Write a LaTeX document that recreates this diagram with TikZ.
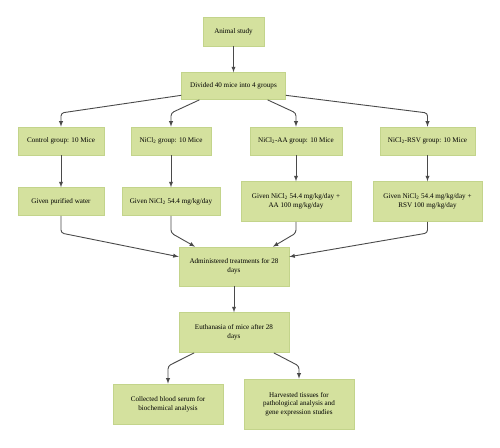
\documentclass[tikz,border=0pt]{standalone}
\usepackage{fontspec}
\setmainfont{Liberation Serif}
\usetikzlibrary{shapes.geometric, arrows, calc, positioning}
\definecolor{boxfill}{HTML}{D4E19E}
\definecolor{boxline}{HTML}{C3D48B}
\definecolor{linegray}{HTML}{4A4A4A}
\tikzstyle{box} = [rectangle, fill=boxfill, draw=boxline, line width=0.6pt, minimum height=28pt, align=center, inner sep=2pt, font=\fontsize{7.1}{8.7}\selectfont]
\tikzstyle{arrow} = [draw=linegray, line width=0.9pt, ->, >=latex, rounded corners=3pt]
\begin{document}
\begin{tikzpicture}[x=1pt, y=-1pt, node distance = 26pt, auto]
		\useasboundingbox (0,0) rectangle (500,447);
		\node (study) [box, minimum width=61pt, minimum height=29pt] at (233.5,31.5) {Animal study};
		\node (divide) [box, minimum width=104pt, minimum height=27pt, below = of study] {Divided 40 mice into 4 groups};
		\node (ctl) [box, minimum width=86pt] at (61,141) {Control group: 10 Mice};
		\node (ni) [box, minimum width=80pt] at (171,141) {NiCl\textsubscript{2} group: 10 Mice};
		\node (aa) [box, minimum width=92pt] at (296,141) {NiCl\textsubscript{2}-AA group: 10 Mice};
		\node (rsv) [box, minimum width=95pt] at (427.5,141) {NiCl\textsubscript{2}-RSV group: 10 Mice};
		\node (water) [box, minimum width=86pt, below = 32pt of ctl] {Given purified water};
		\node (niGiven) [box, minimum width=98pt, below = 32pt of ni] {Given NiCl\textsubscript{2} 54.4 mg/kg/day};
		\node (aaGiven) [box, minimum width=110pt, minimum height=40pt, below = of aa] {Given NiCl\textsubscript{2} 54.4 mg/kg/day +\\AA 100 mg/kg/day};
		\node (rsvGiven) [box, minimum width=109pt, minimum height=40pt, below = of rsv] {Given NiCl\textsubscript{2} 54.4 mg/kg/day +\\RSV 100 mg/kg/day};
		\node (treat) [box, minimum width=110pt, minimum height=39pt] at (234,266.5) {Administered treatments for 28\\days};
		\node (euth) [box, minimum width=110pt, minimum height=40pt, below = of treat] {Euthanasia of mice after 28\\days};
		\node (serum) [box, minimum width=110pt, minimum height=40pt] at (168,404) {Collected blood serum for\\biochemical analysis};
		\node (tissue) [box, minimum width=110pt, minimum height=50pt] at (299,404) {Harvested tissues for\\pathological analysis and\\gene expression studies};
		\coordinate (split) at (0,113);
		\coordinate (merge) at (0,233);
		\coordinate (branch) at (0,366);
		\draw [arrow] (study) -- (divide);
		\draw [arrow] (divide.190) -- (ctl.north |- split) -- (ctl.north);
		\draw [arrow] (divide.202) -- (ni.north |- split) -- (ni.north);
		\draw [arrow] (divide.338) -- (aa.north |- split) -- (aa.north);
		\draw [arrow] (divide.350) -- (rsv.north |- split) -- (rsv.north);
		\draw [arrow] (ctl) -- (water);
		\draw [arrow] (ni) -- (niGiven);
		\draw [arrow] (aa) -- (aaGiven);
		\draw [arrow] (rsv) -- (rsvGiven);
		\draw [arrow] (water.south) -- (water.south |- merge) -- (treat.170);
		\draw [arrow] (niGiven.south) -- (niGiven.south |- merge) -- (treat.153);
		\draw [arrow] (aaGiven.south) -- (aaGiven.south |- merge) -- (treat.27);
		\draw [arrow] (rsvGiven.south) -- (rsvGiven.south |- merge) -- (treat.10);
		\draw [arrow] (treat) -- (euth);
		\draw [arrow] (euth.207) -- (serum.north |- branch) -- (serum.north);
		\draw [arrow] (euth.333) -- (tissue.north |- branch) -- (tissue.north);
		\end{tikzpicture}
\end{document}
